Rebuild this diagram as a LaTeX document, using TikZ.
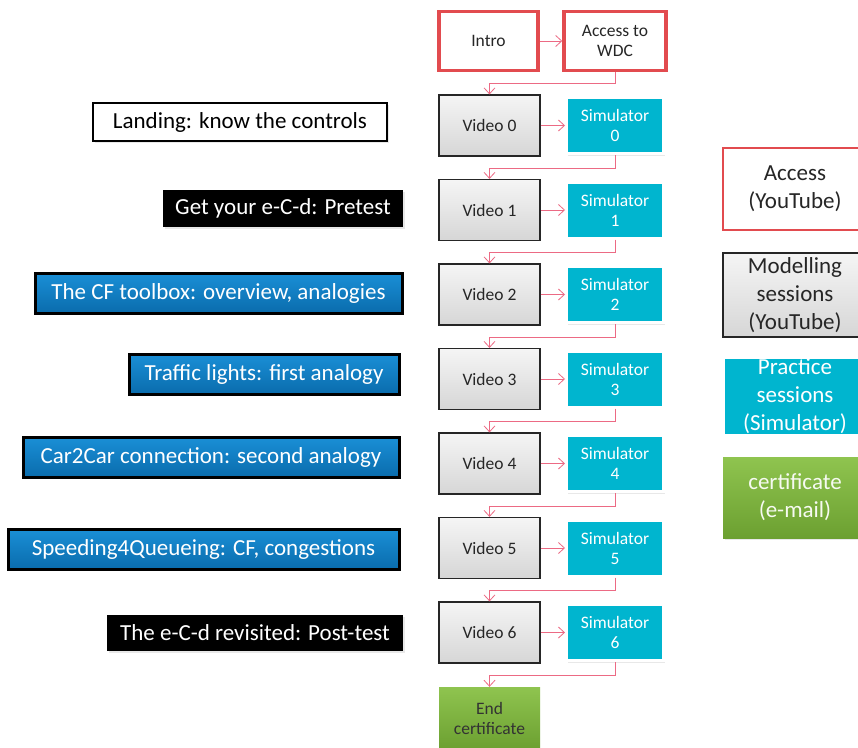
\documentclass[tikz,border=0pt]{standalone}
\usepackage{fontspec}
\setmainfont{Carlito}
\usetikzlibrary{arrows.meta,shadows}
\definecolor{redb}{HTML}{E24B4F}
\definecolor{connc}{HTML}{EC6A84}
\definecolor{cyanf}{HTML}{00B5CF}
\definecolor{blueA}{HTML}{1A8FD6}
\definecolor{blueB}{HTML}{0A6CAD}
\definecolor{greenA}{HTML}{8FC44F}
\definecolor{greenB}{HTML}{6CA031}
\tikzset{
  conn/.style={draw=connc, line width=0.8pt, -{Straight Barb[length=6pt,width=11pt]}},
  softshadow/.style={drop shadow={opacity=0.18, shadow xshift=1.5pt, shadow yshift=-2pt}},
  flowbox/.style={minimum width=101pt, minimum height=61pt, inner sep=0pt, align=center,
    font=\fontsize{17.5}{20}\selectfont},
  introbox/.style={flowbox, minimum width=99pt, minimum height=59pt, draw=redb, line width=3.5pt, fill=white, text=black!85},
  greyshade/.style={top color=gray!8, bottom color=gray!32, draw=black!85, line width=1.2pt},
  vidbox/.style={flowbox, greyshade, text=black!85},
  simbox/.style={flowbox, minimum width=97pt, minimum height=56pt, fill=cyanf, draw=white, line width=3pt, text=white, softshadow},
  greenbox/.style={top color=greenA, bottom color=greenB, draw=none},
  legendbox/.style={minimum width=144pt, minimum height=84pt, inner sep=0pt, align=center,
    font=\fontsize{23}{28}\selectfont},
  labbox/.style={inner sep=0pt, align=center, font=\fontsize{23}{27}\selectfont, softshadow},
  bluelab/.style={labbox, draw=black, line width=3pt, top color=blueA, bottom color=blueB, text=white, minimum height=40pt},
  blacklab/.style={labbox, fill=black, text=white, minimum height=37pt},
}
\begin{document}
\begin{tikzpicture}[x=1pt,y=-1pt]
\clip (0,0) rectangle (858,747);
\fill[white] (0,0) rectangle (858,747);
% top row
\node[introbox] (intro) at (488.5,41) {Intro};
\node[introbox, minimum width=102pt] (wdc) at (615,41) {Access to\\WDC};
\draw[conn] (intro) -- (wdc);
% video / simulator rows
\foreach \i/\y in {0/125.5,1/210,2/294.5,3/379,4/463.5,5/548,6/632.5} {
  \node[vidbox] (vid\i) at (489.5,\y) {Video \i};
  \node[simbox] (sim\i) at (615,\y) {Simulator\\\i};
  \draw[conn] (vid\i) -- (sim\i);
}
\node[flowbox, greenbox, minimum height=62pt, text=black!80] (endc) at (489.5,718) {End\\certificate};
% vertical connectors
\draw[conn] (wdc.south) -- ++(0,11) -| (vid0.north);
\foreach \i/\j in {0/1,1/2,2/3,3/4,4/5,5/6} {
  \draw[conn] (sim\i.south) -- ++(0,13) -| (vid\j.north);
}
\draw[conn] (sim6.south) -- ++(0,13) -| (endc.north);
% left labels
\node[labbox, draw=black, line width=2pt, fill=white, text=black, minimum width=294pt, minimum height=38pt] (lab0) at (240,122) {Landing: know the controls};
\node[blacklab, minimum width=240pt] (lab1) at (283,208.5) {Get your e-C-d: Pretest};
\node[bluelab, minimum width=367pt] (lab2) at (218.5,293) {The CF toolbox: overview, analogies};
\node[bluelab, minimum width=270pt] (lab3) at (264,374) {Traffic lights: first analogy};
\node[bluelab, minimum width=376pt] (lab4) at (211,457) {Car2Car connection: second analogy};
\node[bluelab, minimum width=391pt] (lab5) at (203.5,549) {Speeding4Queueing: CF, congestions};
\node[blacklab, minimum width=296pt, minimum height=36pt] (lab6) at (255,633) {The e-C-d revisited: Post-test};
% legend
\node[legendbox, draw=redb, line width=2pt, fill=white, text=black!85, minimum height=82pt] (lgacc) at (795,189) {Access\\(YouTube)};
\node[legendbox, greyshade, text=black!85] (lgmod) at (795,295) {Modelling\\sessions\\(YouTube)};
\node[legendbox, fill=cyanf, draw=white, line width=3pt, text=white, minimum height=78pt, softshadow] (lgprac) at (795,396) {Practice\\sessions\\(Simulator)};
\node[legendbox, greenbox, text=white!92!greenA, minimum height=81pt, softshadow] (lgcert) at (795,497.5) {certificate\\(e-mail)};
\end{tikzpicture}
\end{document}
